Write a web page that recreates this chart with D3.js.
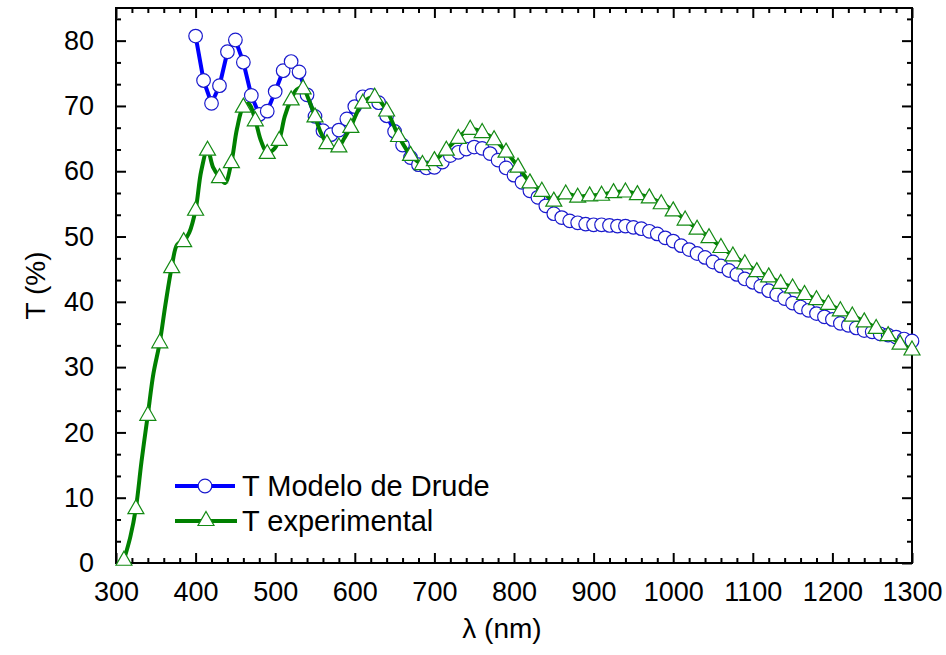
<!DOCTYPE html>
<html><head><meta charset="utf-8">
<script src="https://cdn.jsdelivr.net/npm/d3@7"></script>
<style>body{margin:0;background:#fff}svg{display:block}</style>
</head><body>
<svg id="c" width="946" height="655"></svg>
<script>
// ---- data ----
const drudeWavelength = [400,410,420,430,440,450,460,470,480,490,500,510,520,530,540,550,560,570,580,590,
  600,610,620,630,640,650,660,670,680,690,700,710,720,730,740,750,760,770,780,790,
  800,810,820,830,840,850,860,870,880,890,900,910,920,930,940,950,960,970,980,990,
  1000,1010,1020,1030,1040,1050,1060,1070,1080,1090,1100,1110,1120,1130,1140,1150,1160,1170,1180,1190,
  1200,1210,1220,1230,1240,1250,1260,1270,1280,1290,1300];
const drudeT = [80.7,73.9,70.4,73.1,78.3,80.1,76.7,71.6,68.7,69.2,72.2,75.4,76.8,75.2,71.7,68.4,66.2,65.6,66.3,68.0,
  69.9,71.4,71.6,70.5,68.5,66.1,64.0,62.1,61.0,60.5,60.6,61.4,62.4,62.9,63.4,63.7,63.5,62.7,61.7,60.5,
  59.4,58.3,57.0,56.0,54.7,53.5,52.9,52.4,52.1,51.9,51.8,51.8,51.7,51.6,51.6,51.4,51.2,50.8,50.4,49.8,
  49.3,48.6,48.0,47.4,46.8,46.1,45.5,44.8,44.2,43.5,43.0,42.4,41.7,41.1,40.5,39.8,39.2,38.7,38.2,37.7,
  37.3,36.7,36.4,36.0,35.6,35.4,35.1,34.9,34.6,34.3,34.0];
const expWavelength = [310,325,340,355,370,385,400,415,430,445,460,475,490,505,520,535,550,565,580,595,
  610,625,640,655,670,685,700,715,730,745,760,775,790,805,820,835,850,865,880,895,
  910,925,940,955,970,985,1000,1015,1030,1045,1060,1075,1090,1105,1120,1135,1150,1165,1180,1195,
  1210,1225,1240,1255,1270,1285,1300];
const expT = [0.5,8.4,22.7,33.8,45.3,49.3,54.1,63.3,59.1,61.4,69.9,67.8,62.8,64.8,71.0,72.7,68.4,64.3,63.8,66.8,
  70.5,71.4,69.3,65.4,62.5,61.1,61.7,63.3,65.1,66.5,66.0,64.9,63.0,60.7,58.3,57.0,55.5,56.6,56.1,56.3,
  56.4,56.8,56.9,56.5,56.0,55.1,54.0,52.6,51.2,49.9,48.4,47.1,45.9,44.7,43.9,42.9,42.2,41.2,40.4,39.7,
  38.7,37.9,37.0,36.0,34.9,33.6,32.7];
// experimental curve (the measured trace, denser than the symbols)
const expLineWavelength = [310,318,325,332,340,347,355,362,370,377,385,392,400,407,415,422,430,437,445,452,460,467,475,482,490,497,505,512,520,527,535,542,550,557,565,572,580,587,595,602,610];
const expLineT = [0.5,4.0,8.4,15.5,22.7,29.0,33.8,39.5,45.3,48.8,49.3,50.6,54.1,60.0,63.3,60.6,59.1,58.2,61.4,66.5,69.9,70.3,67.8,64.7,62.8,63.2,64.8,68.4,71.0,72.5,72.7,71.0,68.4,66.0,64.3,63.6,63.8,65.1,66.8,68.8,70.5];
const xMajorTicks = [300,400,500,600,700,800,900,1000,1100,1200,1300];
const yMajorTicks = [0,10,20,30,40,50,60,70,80];
const seriesNames = ["T Modelo de Drude", "T experimental"];
const xTitle = "λ (nm)";
const yTitle = "T (%)";

// ---- layout ----
const L = 116, R = 912, T = 8, B = 563;
const FONT = "'Liberation Sans', Arial, sans-serif";
const BLUE = "#0000ff", BLUE_M = "#1a1acd", GREEN = "#008000", GREEN_M = "#138a13";

const x = d3.scaleLinear().domain([300, 1300]).range([L, R]);
const y = d3.scaleLinear().domain([0, 85]).range([B, T]);

const svg = d3.select("#c");
svg.append("rect").attr("width", 946).attr("height", 655).attr("fill", "#fff");

const xMinor = d3.range(300, 1301, 20).filter(v => v % 100 !== 0);
const yMinor = [];
for (let i = 0; i < 9; i++) { yMinor.push(i * 10 + 10 / 3, i * 10 + 20 / 3); }
const yMinorIn = yMinor.filter(v => v <= 85);

function styleAxis(g) {
  g.select(".domain").remove();
  g.selectAll(".tick line").attr("stroke", "#000").attr("stroke-width", 2);
  g.selectAll("text").attr("font-family", FONT).attr("font-size", 27).attr("fill", "#000");
}

// bottom
svg.append("g").attr("transform", `translate(0,${B})`)
  .call(d3.axisBottom(x).tickValues(xMajorTicks).tickSize(-10).tickPadding(19).tickFormat(d3.format("d")))
  .call(styleAxis);
svg.append("g").attr("transform", `translate(0,${B})`)
  .call(d3.axisBottom(x).tickValues(xMinor).tickSize(-5).tickFormat(""))
  .call(styleAxis);
// top
svg.append("g").attr("transform", `translate(0,${T})`)
  .call(d3.axisTop(x).tickValues(xMajorTicks).tickSize(-10).tickFormat(""))
  .call(styleAxis);
svg.append("g").attr("transform", `translate(0,${T})`)
  .call(d3.axisTop(x).tickValues(xMinor).tickSize(-5).tickFormat(""))
  .call(styleAxis);
// left
svg.append("g").attr("transform", `translate(${L},0)`)
  .call(d3.axisLeft(y).tickValues(yMajorTicks).tickSize(-10).tickPadding(22).tickFormat(d3.format("d")))
  .call(styleAxis);
svg.append("g").attr("transform", `translate(${L},0)`)
  .call(d3.axisLeft(y).tickValues(yMinorIn).tickSize(-5).tickFormat(""))
  .call(styleAxis);
// right
svg.append("g").attr("transform", `translate(${R},0)`)
  .call(d3.axisRight(y).tickValues(yMajorTicks).tickSize(-10).tickFormat(""))
  .call(styleAxis);
svg.append("g").attr("transform", `translate(${R},0)`)
  .call(d3.axisRight(y).tickValues(yMinorIn).tickSize(-5).tickFormat(""))
  .call(styleAxis);

// frame
svg.append("rect").attr("x", L).attr("y", T).attr("width", R - L).attr("height", B - T)
  .attr("fill", "none").attr("stroke", "#000").attr("stroke-width", 2);

// titles
svg.append("text").attr("x", 502).attr("y", 638).attr("text-anchor", "middle")
  .attr("font-family", FONT).attr("font-size", 28).text(xTitle);
svg.append("text").attr("transform", `translate(45,${(T + B) / 2}) rotate(-90)`).attr("text-anchor", "middle")
  .attr("font-family", FONT).attr("font-size", 28).text(yTitle);

const triPath = "M0,-8.5L8,5.5L-8,5.5Z";
const R_C = 6.8;

// Drude series
const drude = drudeWavelength.map((w, i) => [w, drudeT[i]]);
svg.append("path").datum(drude)
  .attr("d", d3.line().x(d => x(d[0])).y(d => y(d[1])))
  .attr("fill", "none").attr("stroke", BLUE).attr("stroke-width", 4).attr("stroke-linejoin", "round");
svg.append("g").selectAll("circle").data(drude).join("circle")
  .attr("cx", d => x(d[0])).attr("cy", d => y(d[1])).attr("r", R_C)
  .attr("fill", "#fff").attr("stroke", BLUE_M).attr("stroke-width", 1.2);

// Experimental series: dense trace up to 610 nm, then the symbol points
const expLine = expLineWavelength.map((w, i) => [w, expLineT[i]])
  .concat(expWavelength.map((w, i) => [w, expT[i]]).filter(d => d[0] > 610));
const exp = expWavelength.map((w, i) => [w, expT[i]]);
svg.append("path").datum(expLine)
  .attr("d", d3.line().curve(d3.curveCatmullRom.alpha(0.5)).x(d => x(d[0])).y(d => y(d[1])))
  .attr("fill", "none").attr("stroke", GREEN).attr("stroke-width", 4).attr("stroke-linejoin", "round");
svg.append("g").selectAll("path").data(exp).join("path")
  .attr("transform", d => `translate(${x(d[0])},${y(d[1])})`).attr("d", triPath)
  .attr("fill", "#fff").attr("stroke", GREEN_M).attr("stroke-width", 1.2);

// legend
const leg = svg.append("g");
leg.append("line").attr("x1", 175).attr("x2", 235).attr("y1", 486).attr("y2", 486)
  .attr("stroke", BLUE).attr("stroke-width", 4);
leg.append("circle").attr("cx", 205).attr("cy", 486).attr("r", R_C)
  .attr("fill", "#fff").attr("stroke", BLUE_M).attr("stroke-width", 1.2);
leg.append("text").attr("x", 242).attr("y", 496).attr("font-family", FONT).attr("font-size", 29).text(seriesNames[0]);
leg.append("line").attr("x1", 175).attr("x2", 237).attr("y1", 521).attr("y2", 521)
  .attr("stroke", GREEN).attr("stroke-width", 4);
leg.append("path").attr("transform", "translate(206,520)").attr("d", triPath)
  .attr("fill", "#fff").attr("stroke", GREEN_M).attr("stroke-width", 1.2);
leg.append("text").attr("x", 242).attr("y", 531).attr("font-family", FONT).attr("font-size", 29).text(seriesNames[1]);
</script>
</body></html>
